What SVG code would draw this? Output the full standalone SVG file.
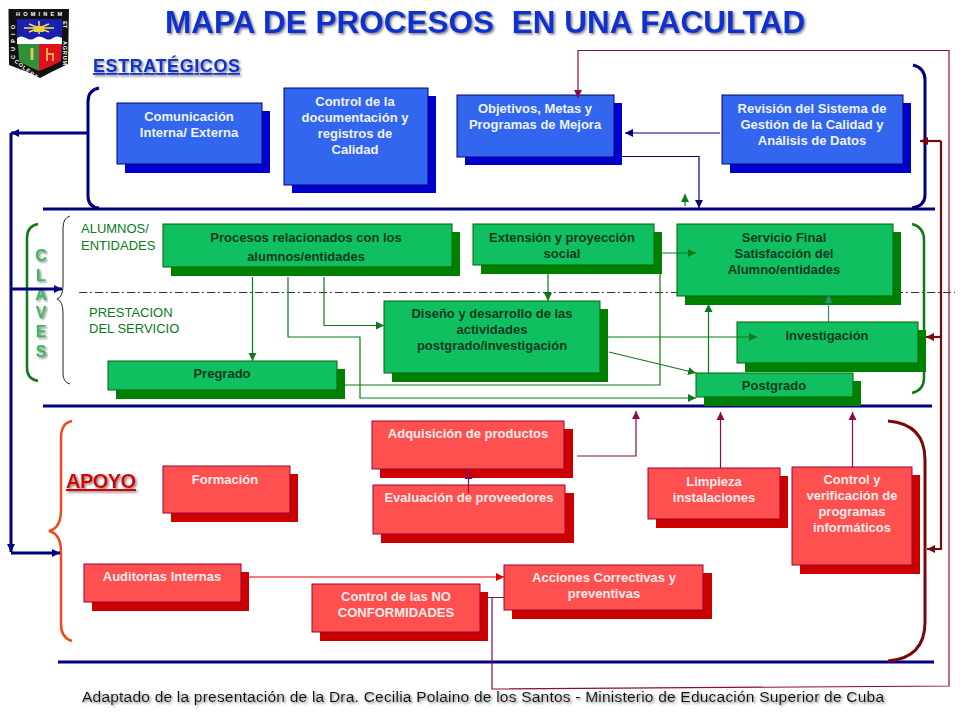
<svg xmlns="http://www.w3.org/2000/svg" width="960" height="720" viewBox="0 0 960 720">
<style>
text{font-family:"Liberation Sans",Arial,sans-serif}
.n text{font-size:13px;font-weight:700;text-anchor:middle}
.b .f{fill:#3366ee;stroke:#000080;stroke-width:1}
.b .s{fill:#0000cc}
.b text{fill:#eef3ff}
.g .f{fill:#10c060;stroke:#006400;stroke-width:1}
.g .s{fill:#008000}
.g text{fill:#0b3a1e}
.r .f{fill:#ff5050;stroke:#990033;stroke-width:1}
.r .s{fill:#cc0000}
.r text{fill:#ffecec}
.gl{stroke:#0b7a1a;stroke-width:1.2;fill:none}
.nv{stroke:#000080;fill:none}
.pu{stroke:#8b0a4a;stroke-width:1.2;fill:none}
.dr{stroke:#7a0808;stroke-width:2.2;fill:none}
.lab{font-size:13px;fill:#0b7a1a}
</style>
<defs>
<filter id="sh" x="-5%" y="-30%" width="110%" height="170%"><feDropShadow dx="1.5" dy="1.5" stdDeviation="0.8" flood-color="#808080"/></filter>
<marker id="ag" markerUnits="userSpaceOnUse" markerWidth="9" markerHeight="9" refX="8" refY="4.5" orient="auto"><path d="M0,0.5L8,4.5L0,8.5z" fill="#0b7a1a"/></marker>
<marker id="at" markerUnits="userSpaceOnUse" markerWidth="9" markerHeight="9" refX="8" refY="4.5" orient="auto"><path d="M0,0.5L8,4.5L0,8.5z" fill="#2e8b7a"/></marker>
<marker id="an" markerUnits="userSpaceOnUse" markerWidth="9" markerHeight="9" refX="8" refY="4.5" orient="auto"><path d="M0,0.5L8,4.5L0,8.5z" fill="#000080"/></marker>
<marker id="ap" markerUnits="userSpaceOnUse" markerWidth="9" markerHeight="9" refX="8" refY="4.5" orient="auto"><path d="M0,0.5L8,4.5L0,8.5z" fill="#8b0a4a"/></marker>
<marker id="ar" markerUnits="userSpaceOnUse" markerWidth="9" markerHeight="9" refX="8" refY="4.5" orient="auto"><path d="M0,0.5L8,4.5L0,8.5z" fill="#e00000"/></marker>
<marker id="ad" markerUnits="userSpaceOnUse" markerWidth="9" markerHeight="9" refX="8" refY="4.5" orient="auto"><path d="M0,0.5L8,4.5L0,8.5z" fill="#7a0808"/></marker>
</defs>
<rect width="960" height="720" fill="#ffffff"/>

<g id="logo">
<path d="M8.500,9H69L68,64Q55,70 40,78Q24,70 9,65z" fill="#111"/>
<rect x="17" y="19" width="45" height="20" fill="#1b1fb0"/>
<path d="M24,28h30M29,24l20,8M49,24l-20,8M39,21v13" stroke="#f3e04a" stroke-width="1.500"/>
<rect x="34" y="26" width="10" height="6" fill="#e8d040"/>
<path d="M17,38q4,-3 9,0t9,0t9,0t9,0t9,0v6H17z" fill="#fff"/>
<path d="M18,44H39V71Q27,66 19,61z" fill="#2f8f3a"/>
<path d="M39,44H62L61,61Q52,66 39,71z" fill="#e01020"/>
<path d="M32,48v12" stroke="#d8c860" stroke-width="3"/>
<path d="M47,48v6h6v7M47,54v7" stroke="#d8b040" stroke-width="2" fill="none"/>
<g font-size="5.500" font-weight="700" fill="#fff">
<text x="16" y="16" textLength="46">HOMINEM</text>
<text transform="translate(15,59) rotate(-90)" textLength="34">CUPIO</text>
<text transform="translate(14,62) rotate(38)" textLength="28">COLERE</text>
<text transform="translate(63,21) rotate(90)">ET</text>
<text transform="translate(63,41) rotate(90)" textLength="24">AGRUM</text>
</g>
</g>

<text x="165" y="33" font-size="31.500" font-weight="700" fill="#0a30d0" filter="url(#sh)">MAPA DE PROCESOS <tspan dx="9">EN UNA FACULTAD</tspan></text>
<text x="93" y="72" font-size="18" font-weight="700" fill="#0a30d0" textLength="147" text-decoration="underline" filter="url(#sh)">ESTRATÉGICOS</text>
<text x="66" y="488" font-size="20" font-weight="700" fill="#d80000" textLength="70" text-decoration="underline" filter="url(#sh)">APOYO</text>
<g font-size="16" font-weight="700" fill="#3cb85c" text-anchor="middle" filter="url(#sh)">
<text x="41" y="261">C</text><text x="41" y="281">L</text><text x="41" y="300">A</text><text x="41" y="318">V</text><text x="41" y="337">E</text><text x="41" y="357">S</text>
</g>
<text class="lab" x="81" y="233">ALUMNOS/</text>
<text class="lab" x="81" y="250">ENTIDADES</text>
<text class="lab" x="89" y="317">PRESTACION</text>
<text class="lab" x="89" y="333">DEL SERVICIO</text>
<text x="82" y="702" font-size="15.500" fill="#111" textLength="802" filter="url(#sh)">Adaptado de la presentación de la Dra. Cecilia Polaino de los Santos - Ministerio de Educación Superior de Cuba</text>

<g id="brackets" fill="none">
<path d="M79,292.500H955" stroke="#333" stroke-width="1" stroke-dasharray="8 3 2 3"/>
<path d="M43,209H935M43,406H932M58,662H934" stroke="#000080" stroke-width="3"/>
<path d="M99,88Q88,90 88,102V196Q88,207 99,208" stroke="#000080" stroke-width="3"/>
<path d="M913,65Q925,68 925,80V195Q925,206 912,208" stroke="#000080" stroke-width="3"/>
<path d="M38,224Q27,226 27,238V368Q27,379 38,381" stroke="#0b7a1a" stroke-width="2.500"/>
<path d="M912,224Q924,227 924,240V378Q924,390 912,393" stroke="#0b7a1a" stroke-width="2.500"/>
<path d="M70,216Q63,218 63,228V285Q63,297 57,299Q63,301 63,313V374Q63,382 70,384" stroke="#222" stroke-width="1"/>
<path d="M72,421Q61,423 61,438V510Q61,528 49,531Q61,534 61,552V624Q61,638 72,641" stroke="#f04a18" stroke-width="2.500"/>
<path d="M888,421Q925,424 925,460V622Q925,658 888,661" stroke="#7a0808" stroke-width="3"/>
</g>

<g id="n-comunicacion" class="n b"><rect class="s" x="125" y="111" width="145" height="62"/><rect class="f" x="117" y="103" width="145" height="61"/><text x="189" y="121">Comunicación</text><text x="189" y="137">Interna/ Externa</text></g>
<g id="n-control-registros" class="n b"><rect class="s" x="292" y="96" width="144" height="97"/><rect class="f" x="284" y="88" width="144" height="97"/><text x="355" y="106">Control de la</text><text x="355" y="122">documentación y</text><text x="355" y="138">registros de</text><text x="355" y="154">Calidad</text></g>
<g id="n-objetivos" class="n b"><rect class="s" x="465" y="103" width="157" height="62"/><rect class="f" x="457" y="95" width="157" height="62"/><text x="535" y="113">Objetivos, Metas y</text><text x="535" y="129">Programas de Mejora</text></g>
<g id="n-revision" class="n b"><rect class="s" x="730" y="103" width="181" height="70"/><rect class="f" x="722" y="95" width="181" height="69"/><text x="812" y="113">Revisión del Sistema de</text><text x="812" y="129">Gestión de la Calidad y</text><text x="812" y="145">Análisis de Datos</text></g>

<g id="n-procesos" class="n g"><rect class="s" x="171" y="232" width="289" height="44"/><rect class="f" x="163" y="224" width="289" height="43"/><text x="306" y="242">Procesos relacionados con los</text><text x="306" y="261">alumnos/entidades</text></g>
<g id="n-extension" class="n g"><rect class="s" x="481" y="232" width="181" height="42"/><rect class="f" x="473" y="224" width="181" height="41"/><text x="562" y="242">Extensión y proyección</text><text x="562" y="258">social</text></g>
<g id="n-servicio" class="n g"><rect class="s" x="685" y="232" width="216" height="73"/><rect class="f" x="677" y="224" width="216" height="72"/><text x="784" y="242">Servicio Final</text><text x="784" y="258">Satisfacción del</text><text x="784" y="274">Alumno/entidades</text></g>
<g id="n-diseno" class="n g"><rect class="s" x="392" y="309" width="216" height="73"/><rect class="f" x="384" y="301" width="216" height="72"/><text x="492" y="318">Diseño y desarrollo de las</text><text x="492" y="334">actividades</text><text x="492" y="350">postgrado/investigación</text></g>
<g id="n-investigacion" class="n g"><rect class="s" x="745" y="330" width="181" height="42"/><rect class="f" x="737" y="322" width="181" height="41"/><text x="827" y="340">Investigación</text></g>
<g id="n-postgrado" class="n g"><rect class="s" x="704" y="381" width="157" height="25"/><rect class="f" x="696" y="373" width="157" height="24"/><text x="774" y="390">Postgrado</text></g>
<g id="n-pregrado" class="n g"><rect class="s" x="116" y="369" width="229" height="30"/><rect class="f" x="108" y="361" width="229" height="29"/><text x="222" y="378">Pregrado</text></g>

<g id="n-adquisicion" class="n r"><rect class="s" x="380" y="429" width="193" height="49"/><rect class="f" x="372" y="421" width="192" height="48"/><text x="468" y="438">Adquisición de productos</text></g>
<g id="n-evaluacion" class="n r"><rect class="s" x="381" y="493" width="193" height="50"/><rect class="f" x="373" y="485" width="192" height="49"/><text x="469" y="502">Evaluación de proveedores</text></g>
<g id="n-formacion" class="n r"><rect class="s" x="171" y="474" width="127" height="48"/><rect class="f" x="163" y="466" width="127" height="47"/><text x="225" y="484">Formación</text></g>
<g id="n-auditorias" class="n r"><rect class="s" x="92" y="572" width="157" height="39"/><rect class="f" x="84" y="564" width="157" height="38"/><text x="162" y="581">Auditorias Internas</text></g>
<g id="n-control-no" class="n r"><rect class="s" x="320" y="592" width="168" height="49"/><rect class="f" x="312" y="584" width="168" height="48"/><text x="396" y="601">Control de las NO</text><text x="396" y="617">CONFORMIDADES</text></g>
<g id="n-acciones" class="n r"><rect class="s" x="512" y="573" width="200" height="46"/><rect class="f" x="504" y="565" width="199" height="45"/><text x="604" y="582">Acciones Correctivas y</text><text x="604" y="598">preventivas</text></g>
<g id="n-limpieza" class="n r"><rect class="s" x="656" y="476" width="132" height="52"/><rect class="f" x="648" y="468" width="132" height="51"/><text x="714" y="486">Limpieza</text><text x="714" y="502">instalaciones</text></g>
<g id="n-control-verif" class="n r"><rect class="s" x="800" y="475" width="120" height="99"/><rect class="f" x="792" y="467" width="120" height="98"/><text x="852" y="484">Control y</text><text x="852" y="500">verificación de</text><text x="852" y="516">programas</text><text x="852" y="532">informáticos</text></g>

<g id="connectors">
<path class="gl" d="M252.500,277V361" marker-end="url(#ag)"/>
<path class="gl" d="M288,277V337H360V398H696" marker-end="url(#ag)"/>
<path class="gl" d="M324,277V325.500H384" marker-end="url(#ag)"/>
<path class="gl" d="M345,385H660V273"/>
<path class="gl" d="M662,253H696" marker-end="url(#ag)"/>
<path class="gl" d="M548,274V301" marker-end="url(#ag)"/>
<path class="gl" d="M608,337H757" marker-end="url(#ag)"/>
<path class="gl" d="M609,352L696,373" marker-end="url(#ag)"/>
<path class="gl" d="M708.500,373V304" marker-end="url(#ag)"/>
<path d="M828.500,322V295" stroke="#2e8b7a" stroke-width="1.200" fill="none" marker-end="url(#at)"/>
<path class="gl" d="M685,206V194" marker-end="url(#ag)"/>
<path class="nv" stroke-width="1.200" d="M622,156.500H699V208" marker-end="url(#an)"/>
<path class="nv" stroke-width="1.200" d="M720,133H625" marker-end="url(#an)"/>
<path class="nv" stroke-width="3" d="M87,133H11" marker-end="url(#an)"/>
<path class="nv" stroke-width="3" d="M11,133V552" marker-end="url(#an)"/>
<path class="nv" stroke-width="3" d="M11,289H62" marker-end="url(#an)"/>
<path class="nv" stroke-width="3" d="M11,553H60" marker-end="url(#an)"/>
<path class="pu" d="M577,456H636V411" marker-end="url(#ap)"/>
<path class="pu" d="M468.500,493V471" marker-end="url(#ap)"/>
<path class="pu" d="M720.500,468V412" marker-end="url(#ap)"/>
<path class="pu" d="M852.500,467V412" marker-end="url(#ap)"/>
<path d="M249,577H504" stroke="#e00000" stroke-width="1.200" fill="none" marker-end="url(#ar)"/>
<path class="pu" d="M488,597.500H504M492,597.500V689L949,686V50.500H578V98" marker-end="url(#ap)"/>
<path class="dr" d="M941,141V549H927" marker-end="url(#ad)"/>
<path class="dr" d="M941,141H920" marker-end="url(#ad)"/>
<path class="dr" d="M941,337H926" marker-end="url(#ad)"/>
</g>
</svg>
